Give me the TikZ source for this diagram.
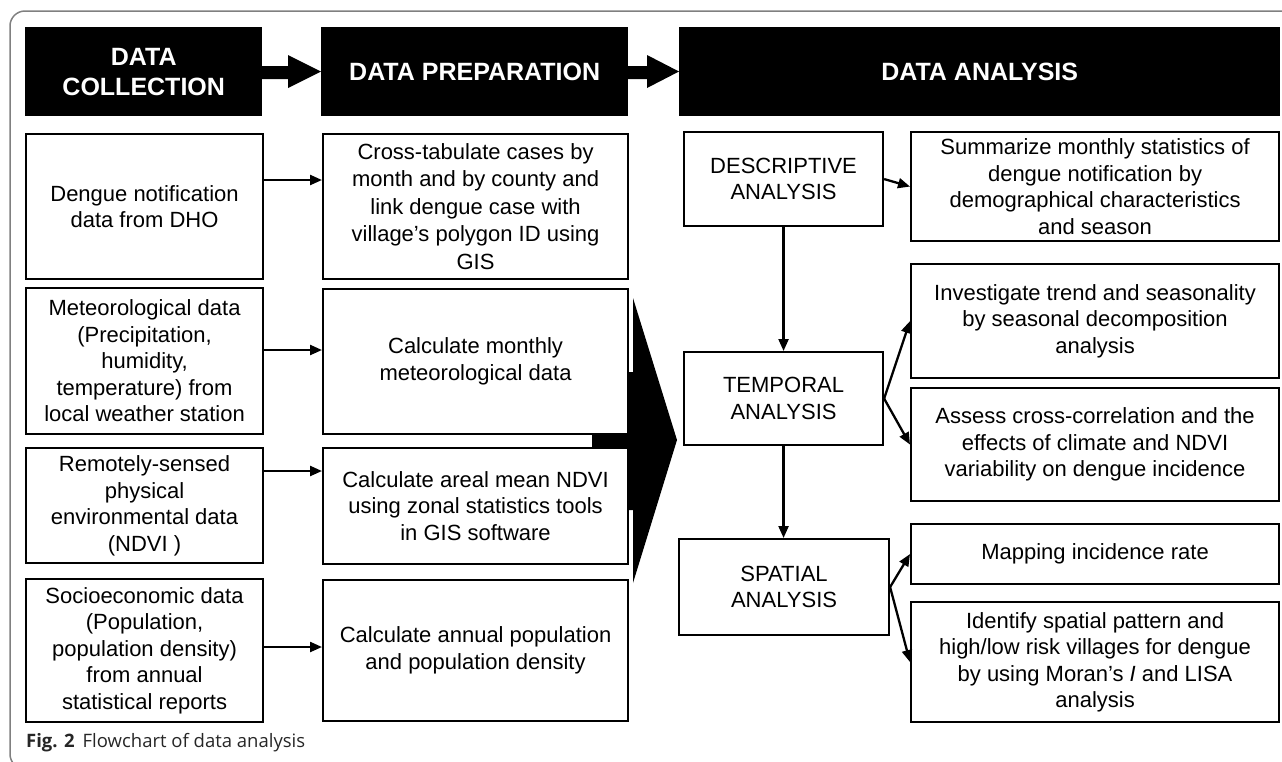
\documentclass[tikz,border=0pt]{standalone}
\usepackage{fontspec}
\setmainfont{Liberation Sans}
\newfontfamily\capfont{Open Sans}
\usetikzlibrary{arrows.meta}
\begin{document}
\begin{tikzpicture}[x=1pt,y=-1pt,
  box/.style={draw=black, line width=2.1pt, fill=white, align=center, inner sep=0pt,
    anchor=north west, text=black, font=\fontsize{22}{26.5}\selectfont},
  headbox/.style={fill=black, text=white, align=center, inner sep=0pt,
    anchor=north west, font=\fontsize{25}{30}\selectfont\bfseries},
  conn/.style={line width=2.3pt, -{Triangle[length=12pt,width=10pt]}},
  framecol/.style={draw=black!50, line width=1.5pt},
]
\useasboundingbox (0,0) rectangle (1282,761);
\clip (0,0) rectangle (1282,761);
% frame
\draw[framecol, rounded corners=15pt] (40,769) -- (10,769) -- (10,11) -- (1300,11);

% headers
\node[headbox, minimum width=237pt, minimum height=89pt] (h1) at (25,27) {DATA\\COLLECTION};
\node[headbox, minimum width=307pt, minimum height=89pt] (h2) at (321,27) {DATA PREPARATION};
\node[headbox, minimum width=601pt, minimum height=89pt] (h3) at (679,27) {DATA ANALYSIS};
\fill (262,66) -- (288,66) -- (288,55) -- (321,71.5) -- (288,88) -- (288,79) -- (262,79) -- cycle;
\fill (627,66) -- (647,66) -- (647,55) -- (679,71.5) -- (647,88) -- (647,79) -- (627,79) -- cycle;

% big arrow (behind middle boxes)
\fill (592,372) -- (633,372) -- (633,298) -- (677,440) -- (633,583) -- (633,510) -- (592,510) -- cycle;

% left column
\node[box, minimum width=237pt, minimum height=145pt] (dengue) at (25,133) {Dengue notification\\data from DHO};
\node[box, minimum width=237pt, minimum height=146pt] (meteo) at (25,287) {Meteorological data\\(Precipitation,\\humidity,\\temperature) from\\local weather station};
\node[box, minimum width=237pt, minimum height=115pt] (remote) at (25,447) {Remotely-sensed\\physical\\environmental data\\(NDVI )};
\node[box, minimum width=237pt, minimum height=143pt] (socio) at (25,578) {Socioeconomic data\\(Population,\\population density)\\from annual\\statistical reports};

% middle column
\node[box, minimum width=305pt, minimum height=145pt, font=\fontsize{22}{27.5}\selectfont] (cross) at (322,133) {Cross-tabulate cases by\\month and by county and\\link dengue case with\\village’s polygon ID using\\GIS};
\node[box, minimum width=305pt, minimum height=145pt] (monthly) at (322,288) {Calculate monthly\\meteorological data};
\node[box, minimum width=305pt, minimum height=116pt] (areal) at (322,447) {Calculate areal mean NDVI\\using zonal statistics tools\\in GIS software};
\node[box, minimum width=305pt, minimum height=141pt] (annual) at (322,579) {Calculate annual population\\and population density};

% left -> middle arrows
\coordinate (y1) at (0,180);
\coordinate (y2) at (0,350);
\coordinate (y3) at (0,471);
\coordinate (y4) at (0,647);
\draw[conn] (dengue.east |- y1) -- (cross.west |- y1);
\draw[conn] (meteo.east |- y2) -- (monthly.west |- y2);
\draw[conn] (remote.east |- y3) -- (areal.west |- y3);
\draw[conn] (socio.east |- y4) -- (annual.west |- y4);

% right part
\node[box, minimum width=199pt, minimum height=94pt] (desc) at (683,131) {DESCRIPTIVE\\ANALYSIS};
\node[box, minimum width=368pt, minimum height=109pt] (summ) at (910,131) {Summarize monthly statistics of\\dengue notification by\\demographical characteristics\\and season};
\node[box, minimum width=199pt, minimum height=93pt] (temporal) at (683,351) {TEMPORAL\\ANALYSIS};
\node[box, minimum width=368pt, minimum height=114pt] (invest) at (910,263) {Investigate trend and seasonality\\by seasonal decomposition\\analysis};
\node[box, minimum width=368pt, minimum height=113pt] (assess) at (910,387) {Assess cross-correlation and the\\effects of climate and NDVI\\variability on dengue incidence};
\node[box, minimum width=210pt, minimum height=96pt] (spatial) at (678,538) {SPATIAL\\ANALYSIS};
\node[box, minimum width=368pt, minimum height=60pt] (mapping) at (910,523) {Mapping incidence rate};
\node[box, minimum width=368pt, minimum height=120pt] (identify) at (910,601) {Identify spatial pattern and\\high/low risk villages for dengue\\by using Moran’s \textit{I} and LISA\\analysis};

\draw[conn] (desc.south) -- (temporal.north);
\draw[conn] (temporal.south) -- (temporal.south |- spatial.north);
\draw[conn] (desc.east) -- (summ.west);
\draw[conn] (temporal.east) -- (invest.west);
\draw[conn] (temporal.east) -- (assess.west);
\draw[conn] (spatial.east) -- (mapping.west);
\draw[conn] (spatial.east) -- (identify.west);

% caption
\node[anchor=west, inner sep=0pt, font=\capfont\fontsize{18.5}{21}\selectfont, text=black!85] (cap) at (26,743) {\textbf{Fig. 2}\hspace{8pt}Flowchart of data analysis};
\end{tikzpicture}
\end{document}
